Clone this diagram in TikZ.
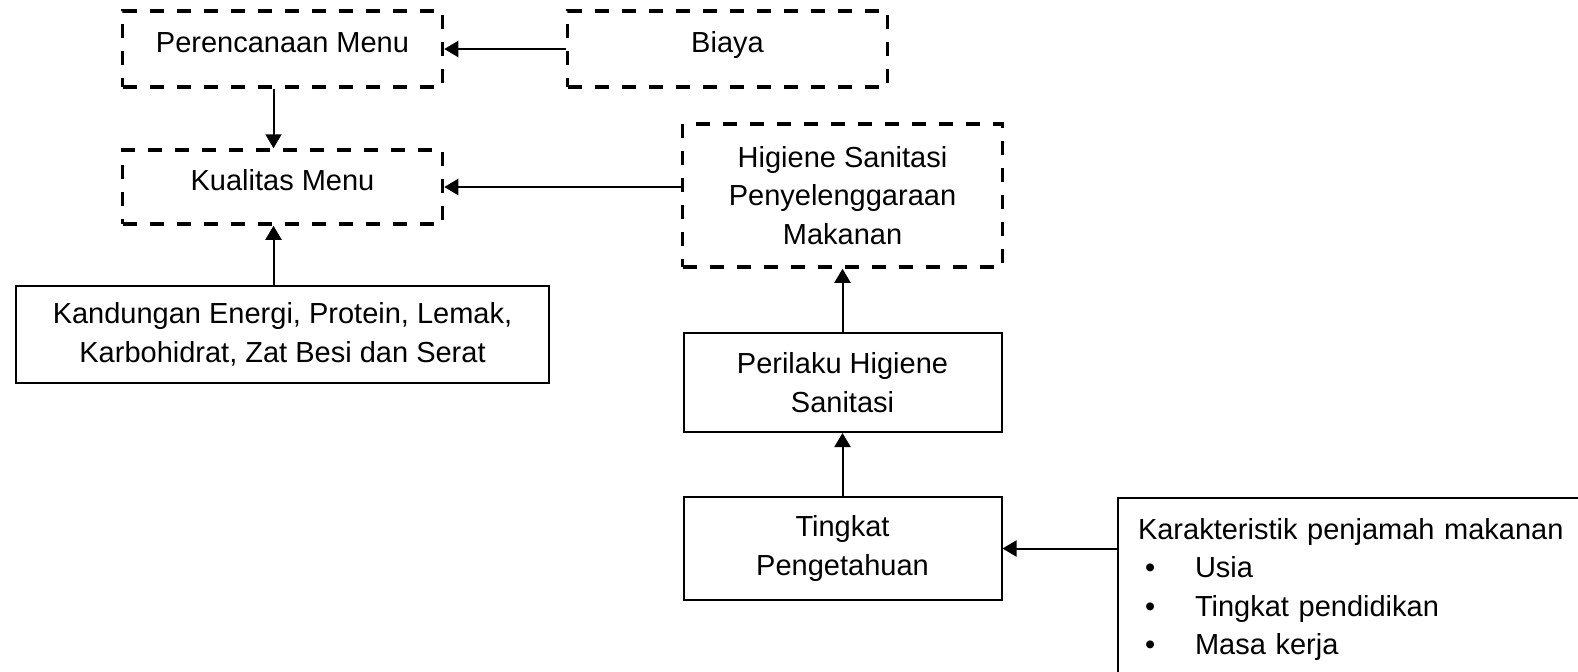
\documentclass[tikz,border=0pt]{standalone}
\usepackage{fontspec}
\setmainfont{Liberation Sans}
\usepackage{tikz}
\usetikzlibrary{arrows.meta,positioning}
\newcommand{\boxfont}{\fontsize{14.5pt}{19.25pt}\selectfont}
\newcommand{\itembullet}{\hspace*{3.5pt}\makebox[25pt][l]{\textbullet}}
\tikzset{
    dashbox/.style = {draw, line width=1.75pt, dash pattern=on 7pt off 6.5pt,
        minimum width=160pt, minimum height=38pt, align=center},
    solidbox/.style = {draw, line width=1pt, minimum width=159pt, align=center},
    oneline/.style = {text depth=6.6pt},
    arrow/.style = {draw, line width=1pt, -{Triangle[length=7pt,width=8pt]}}
}
\begin{document}
\begin{tikzpicture}[x=0.5pt, y=-0.5pt, node distance=1cm, every node/.style={font=\boxfont}]
    \useasboundingbox (0,0) rectangle (1578,671);
    \clip (0,0) rectangle (1578,671);
    \node [dashbox, oneline] (plan) at (282.5,49) {Perencanaan Menu};
    \node [dashbox, oneline, right of=plan, node distance=222.5pt] (biaya) {Biaya};
    \node [dashbox, oneline, below of=plan, node distance=69pt, minimum height=37pt] (kual) {Kualitas Menu};
    \node [solidbox, below of=kual, node distance=73.75pt, minimum width=266.5pt, minimum height=48.5pt] (kand) {Kandungan Energi, Protein, Lemak,\\Karbohidrat, Zat Besi dan Serat};
    \node [dashbox, minimum height=71.5pt] (hig) at (842.5,195.5) {Higiene Sanitasi\\Penyelenggaraan\\Makanan};
    \node [solidbox, below of=hig, node distance=93.5pt, minimum height=49.5pt] (peril) {Perilaku Higiene\\Sanitasi};
    \node [solidbox, below of=peril, node distance=83pt, minimum height=51.5pt] (tingkat) {Tingkat\\Pengetahuan};
    \node [draw, line width=1pt, anchor=north west, text width=260pt, align=left,
        inner xsep=10pt, inner ysep=10pt, text depth=120pt] (karak) at (1117,497)
        {Karakteristik penjamah makanan\\ \itembullet Usia\\ \itembullet Tingkat pendidikan\\ \itembullet Masa kerja};
    % arrows
    \draw [arrow] (biaya) -- (plan);
    \draw [arrow] ([xshift=-4.5pt]plan.south) -- ([xshift=-4.5pt]kual.north);
    \draw [arrow] (hig.west |- kual.east) -- (kual.east);
    \draw [arrow] ([xshift=-4.5pt]kand.north) -- ([xshift=-4.5pt]kual.south);
    \draw [arrow] (peril) -- (hig);
    \draw [arrow] (tingkat) -- (peril);
    \draw [arrow] (karak.west |- tingkat.east) -- (tingkat.east);
\end{tikzpicture}
\end{document}
